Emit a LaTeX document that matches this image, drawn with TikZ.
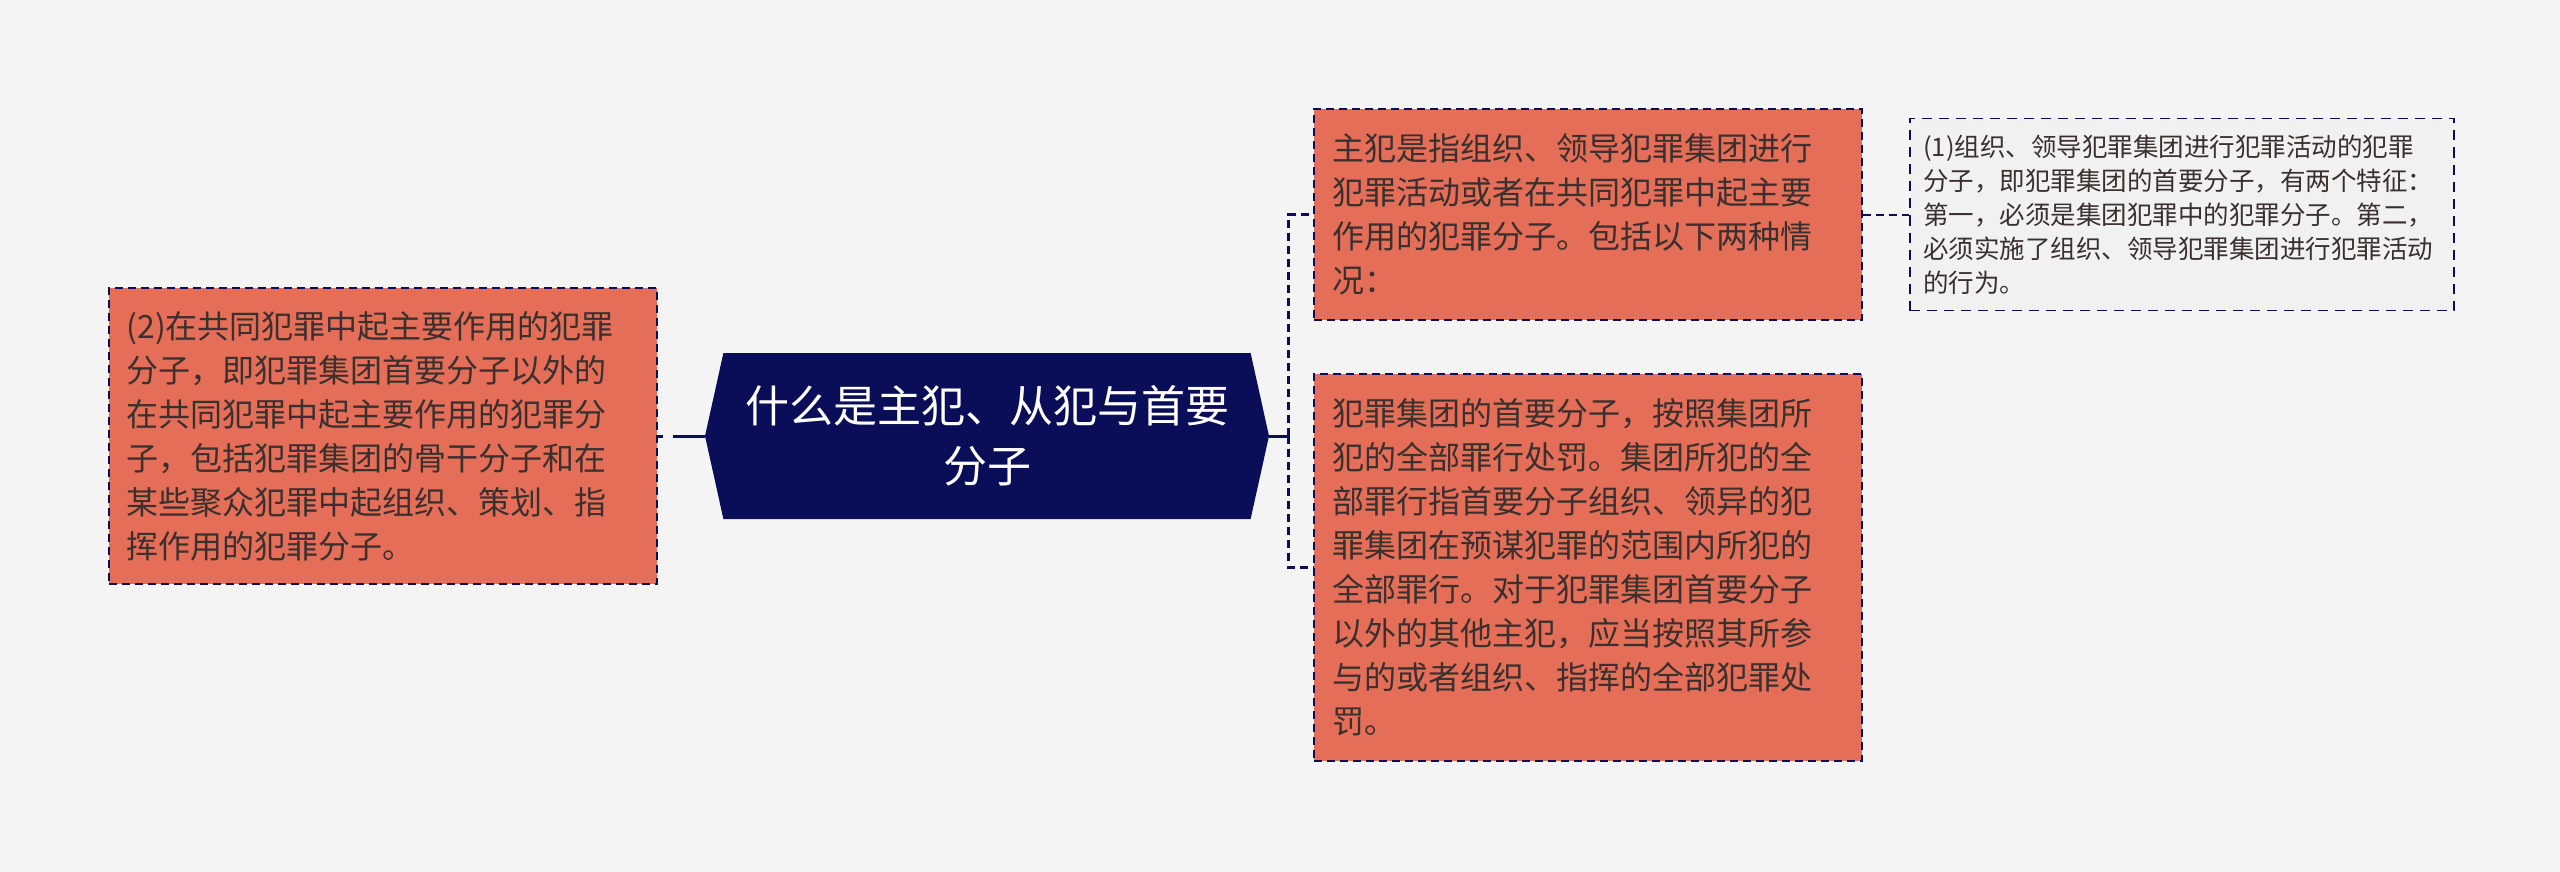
\documentclass[tikz,border=0pt]{standalone}
\usepackage{fontspec}
\setmainfont{Noto Sans CJK SC}
\usepackage{tikz}
\usetikzlibrary{positioning}
\usetikzlibrary{shapes.symbols}
\usepackage{xcolor}
\definecolor{bgcol}{HTML}{F4F4F5}
\definecolor{navy}{HTML}{0A0E58}
\definecolor{salmon}{HTML}{E56E58}
\definecolor{ink}{HTML}{3A302E}
\definecolor{notefill}{HTML}{F1F1F2}

\begin{document}
\begin{tikzpicture}[hub/.style = {shape=signal, signal to=west and east, signal pointer angle=155, fill=navy, text=white, minimum width=282pt, minimum height=83pt, inner sep=0pt, align=center, font=\fontsize{22pt}{30pt}\selectfont},
leaf/.style = {draw=navy, line width=1pt, dash pattern=on 4pt off 2.5pt, fill=salmon, text=ink, text width=256pt, inner xsep=9pt, inner ysep=0pt, align=left, font=\fontsize{16pt}{22pt}\selectfont},
note/.style = {draw=navy, line width=0.9pt, dash pattern=on 5pt off 3.5pt, fill=notefill, text=ink, text width=259pt, inner xsep=6.5pt, inner ysep=0pt, minimum height=96pt, align=left, font=\fontsize{12.75pt}{17pt}\selectfont},
link/.style = {draw=navy, line width=1.5pt, dash pattern=on 4pt off 2.5pt}]
\fill[bgcol] (0,0) rectangle (1280pt,-436pt);
\useasboundingbox (0,0) rectangle (1280pt,-436pt);
\node[hub] (0) at (493.5pt,-218pt) {什么是主犯、从犯与首要\\分子};
\node[leaf, minimum height=148pt] (1) [left=23.5pt of 0] {(2)在共同犯罪中起主要作用的犯罪\\分子，即犯罪集团首要分子以外的\\在共同犯罪中起主要作用的犯罪分\\子，包括犯罪集团的骨干分子和在\\某些聚众犯罪中起组织、策划、指\\挥作用的犯罪分子。};
\node[leaf, minimum height=105.5pt] (2) [right=22pt of 0, yshift=110.75pt] {主犯是指组织、领导犯罪集团进行\\犯罪活动或者在共同犯罪中起主要\\作用的犯罪分子。包括以下两种情\\况：};
\node[leaf, minimum height=193.5pt] (3) [right=22pt of 0, yshift=-65.75pt] {犯罪集团的首要分子，按照集团所\\犯的全部罪行处罚。集团所犯的全\\部罪行指首要分子组织、领异的犯\\罪集团在预谋犯罪的范围内所犯的\\全部罪行。对于犯罪集团首要分子\\以外的其他主犯，应当按照其所参\\与的或者组织、指挥的全部犯罪处\\罚。};
\node[note] (4) [right=23pt of 2] {(1)组织、领导犯罪集团进行犯罪活动的犯罪\\分子，即犯罪集团的首要分子，有两个特征：\\第一，必须是集团犯罪中的犯罪分子。第二，\\必须实施了组织、领导犯罪集团进行犯罪活动\\的行为。};
\path (0.west) edge [link, dash pattern=on 16pt off 5pt] (1.east);
\draw[link, solid] (0.east) -- ++(9.5pt,0) coordinate (fork);
\draw[link] (fork) |- (2.west);
\draw[link] (fork) |- (3.west);
\path (2.east) edge [link, line width=1pt] (4.west);
\end{tikzpicture}
\end{document}
